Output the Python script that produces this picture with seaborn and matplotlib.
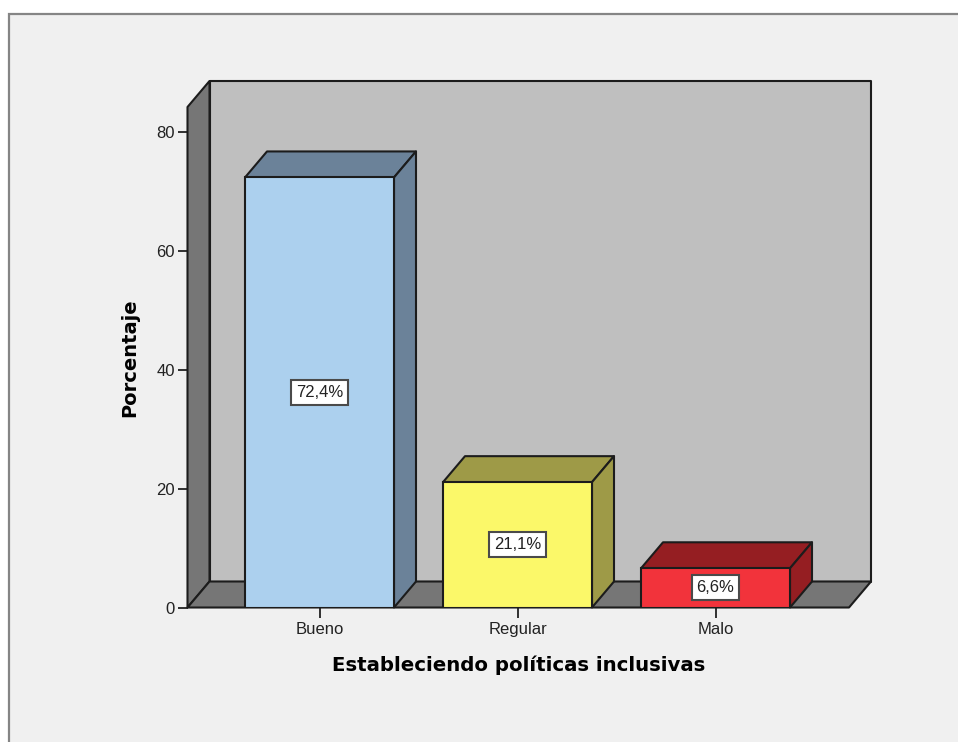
import matplotlib
matplotlib.use('Agg')
import matplotlib.pyplot as plt
import seaborn as sns
import pandas as pd
from matplotlib.patches import Polygon, Rectangle

categories = ['Bueno', 'Regular', 'Malo']
percentages = [72.4, 21.1, 6.6]
value_labels = ['72,4%', '21,1%', '6,6%']
y_ticks = [0, 20, 40, 60, 80]
front_colors = ['#acd0ee', '#fbf869', '#f2333b']
shade_colors = ['#6b8299', '#9e9a47', '#951e22']

WIDTH, HEIGHT = 958, 742
EDGE = '#1c1c1c'

sns.set_style('white')
plt.rcParams['font.family'] = ['Liberation Sans', 'DejaVu Sans']

df = pd.DataFrame({'categoria': categories, 'porcentaje': percentages})

fig = plt.figure(figsize=(WIDTH / 100, HEIGHT / 100), dpi=100, facecolor='white')

# grey panel behind the chart, runs off the right and bottom edges
fig.add_artist(Rectangle((9 / WIDTH, -0.05), 1.05, 1.05 - 13.5 / HEIGHT, transform=fig.transFigure,
                         facecolor='#f0f0f0', edgecolor='#858585', linewidth=1.6, zorder=-1))

# axes = front plane of the 3D box
left, right, bottom, top = 187.5, 849, 607.5, 107
ax = fig.add_axes([left / WIDTH, 1 - bottom / HEIGHT, (right - left) / WIDTH, (bottom - top) / HEIGHT])
ax.patch.set_visible(False)

sns.barplot(data=df, x='categoria', y='porcentaje', hue='categoria', palette=front_colors,
            width=149 / 198, saturation=1, legend=False, edgecolor=EDGE, linewidth=1.5, zorder=5, ax=ax)

ax.set_xlim(-132 / 198, 2 + 133.5 / 198)
ax.set_ylim(0, (bottom - top) / 5.94)
xmin, xmax = ax.get_xlim()
ymin, ymax = ax.get_ylim()

# depth of the box, 22 px across and 26 px up
dx = 22 / 198
dy = 26 / 5.94


def face(points, color, z):
    ax.add_patch(Polygon(points, closed=True, facecolor=color, edgecolor=EDGE, linewidth=1.5,
                         joinstyle='round', clip_on=False, zorder=z))


face([(xmin + dx, ymin + dy), (xmax + dx, ymin + dy), (xmax + dx, ymax + dy), (xmin + dx, ymax + dy)], '#bfbfbf', 1)
face([(xmin, ymin), (xmin + dx, ymin + dy), (xmin + dx, ymax + dy), (xmin, ymax)], '#767676', 2)
face([(xmin, ymin), (xmax, ymin), (xmax + dx, ymin + dy), (xmin + dx, ymin + dy)], '#767676', 2)

bars = list(ax.containers)
for container, shade, label in zip(bars, shade_colors, value_labels):
    bar = container[0]
    x0, x1 = bar.get_x(), bar.get_x() + bar.get_width()
    h = bar.get_height()
    face([(x0, h), (x1, h), (x1 + dx, h + dy), (x0 + dx, h + dy)], shade, 3)
    face([(x1, 0), (x1 + dx, dy), (x1 + dx, h + dy), (x1, h)], shade, 3)
    ax.text((x0 + x1) / 2, h / 2, label, ha='center', va='center', fontsize=12, color='#222222', zorder=6,
            bbox=dict(boxstyle='square,pad=0.3', facecolor='white', edgecolor='#4a4a4a', linewidth=1.5))

sns.despine(ax=ax, left=True, bottom=True)
ax.set_yticks(y_ticks)
ax.tick_params(axis='both', length=7.5, width=1.4, color='#303030', labelsize=12, labelcolor='#222222',
               left=True, bottom=True)
ax.tick_params(axis='y', pad=1.5)
ax.tick_params(axis='x', pad=3)

ax.set_xlabel('Estableciendo políticas inclusivas', fontsize=14.2, fontweight='bold', family='DejaVu Sans',
              color='black', labelpad=13)
ax.set_ylabel('Porcentaje', fontsize=14, fontweight='bold', family='DejaVu Sans', color='black', labelpad=12)

fig.savefig('out.png', dpi=100)
